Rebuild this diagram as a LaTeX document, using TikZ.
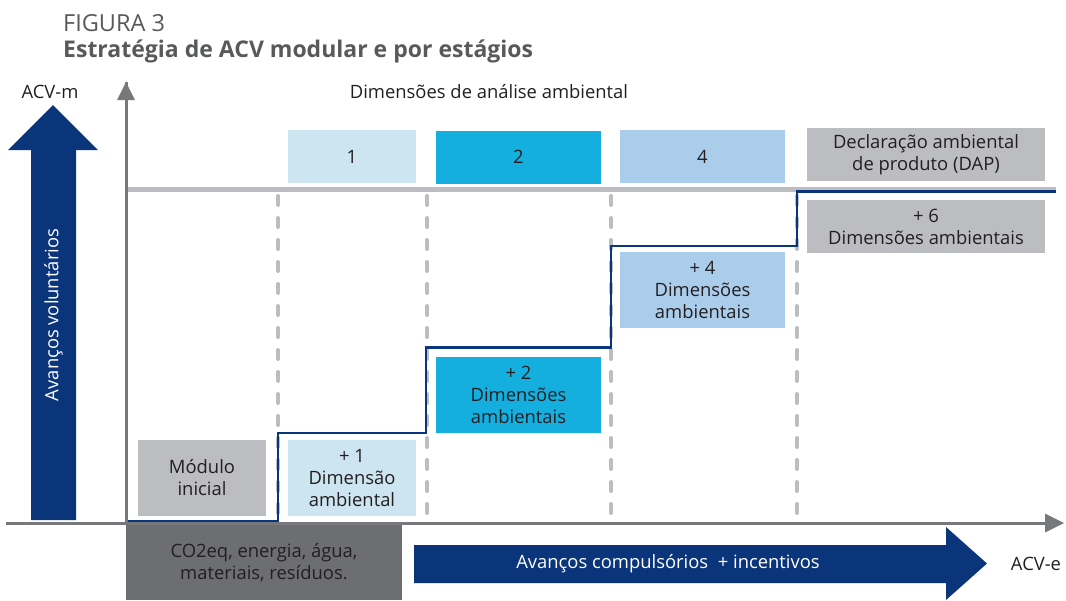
\documentclass[tikz,border=0pt]{standalone}
\usepackage{fontspec}
\setmainfont{Open Sans}
\usetikzlibrary{arrows.meta}
\definecolor{navy}{HTML}{0B357A}
\definecolor{axisgray}{HTML}{77787B}
\definecolor{lightgray}{HTML}{BCBDC0}
\definecolor{darkgray}{HTML}{6D6E71}
\definecolor{txt}{HTML}{231F20}
\definecolor{paleblue}{HTML}{CDE5F0}
\definecolor{cyanblue}{HTML}{14AFDF}
\definecolor{skyblue}{HTML}{ABCDEC}
\definecolor{titlegray}{HTML}{58595B}
\tikzset{
  box/.style={inner sep=0pt, align=center, text=txt,
    font=\fontsize{18.4}{22}\selectfont},
  lbl/.style={inner sep=0pt, text=txt, font=\fontsize{18.4}{22}\selectfont},
  dashline/.style={lightgray, line width=4pt, line cap=round, dash pattern=on 9pt off 13pt},
  stepline/.style={navy, line width=2.6pt},
  axisline/.style={axisgray, line width=3pt},
}
\begin{document}
\begin{tikzpicture}[x=1pt,y=-1pt]
\useasboundingbox (0,0) rectangle (1066,600);
% titles
\node[anchor=base west, inner sep=0pt, text=titlegray, font=\fontsize{23.5}{26}\selectfont] (fig) at (63,31) {FIGURA 3};
\node[anchor=base west, inner sep=0pt, text=titlegray, font=\fontsize{23}{26}\selectfont\bfseries] (title) at (63,57) {Estratégia de ACV modular e por estágios};
\node[lbl] (acvm) at (50,92) {ACV-m};
\node[lbl] (dim) at (489,92) {Dimensões de análise ambiental};
% vertical blue arrow
\fill[navy] (31,520) -- (31,150) -- (8,150) -- (53,105) -- (98,150) -- (76,150) -- (76,520) -- cycle;
\node[rotate=90, inner sep=0pt, text=white, font=\fontsize{18.4}{22}\selectfont] (avv) at (53.5,315) {Avanços voluntários};
% light horizontal line
\coordinate (hl0) at (126,189);
\coordinate (hl1) at (1056,189);
\draw[lightgray, line width=5pt] (hl0) -- (hl1);
% dashed lines
\foreach \x/\n in {278/a,427/b,611/c,797/d}{
  \coordinate (t\n) at (\x,196);
  \coordinate (b\n) at (\x,518);
  \draw[dashline] (t\n) -- (b\n);
}
% boxes
\node[box, fill=paleblue, minimum width=128pt, minimum height=53pt] (d1) at (352,156.5) {1};
\node[box, fill=cyanblue, minimum width=165pt, minimum height=53pt] (d2) at (518.5,157) {2};
\node[box, fill=skyblue, minimum width=165pt, minimum height=53pt] (d4) at (702.5,156.5) {4};
\node[box, fill=lightgray, minimum width=238pt, minimum height=53pt] (dap) at (926,154.5) {Declaração ambiental\\de produto (DAP)};
\node[box, fill=lightgray, minimum width=238pt, minimum height=53pt] (s6) at (926,226.5) {+ 6\\Dimensões ambientais};
\node[box, fill=skyblue, minimum width=165pt, minimum height=76pt] (s4) at (702.5,290) {+ 4\\Dimensões\\ambientais};
\node[box, fill=cyanblue, minimum width=165pt, minimum height=76pt] (s2) at (518.5,395) {+ 2\\Dimensões\\ambientais};
\node[box, fill=paleblue, minimum width=128pt, minimum height=76pt] (s1) at (352,478) {+ 1\\Dimensão\\ambiental};
\node[box, fill=lightgray, minimum width=128pt, minimum height=76pt] (m0) at (202,478) {Módulo\\inicial};
\node[box, fill=darkgray, minimum width=276pt, minimum height=75pt] (co2) at (264,562.5) {CO2eq, energia, água,\\materiais, resíduos.};
% axes
\coordinate (o) at (126,523);
\coordinate (ytop) at (126,82);
\coordinate (xl) at (6,523);
\coordinate (xr) at (1064,523);
\draw[axisline] (126,525) -- (ytop);
\fill[axisgray] (117,100) -- (126,82) -- (135,100) -- cycle;
\draw[axisline] (xl) -- (1047,523);
\fill[axisgray] (1045,513.5) -- (1064,523) -- (1045,532.5) -- cycle;
% step line
\draw[stepline] (128,521) -- (278,521) -- (278,433) -- (426,433) -- (426,347.5) -- (611,347.5) -- (611,246) -- (797,246) -- (797,191.5) -- (1056,191.5);
% horizontal blue arrow
\fill[navy] (414,545) -- (946,545) -- (946,527) -- (987,563.5) -- (946,600) -- (946,583) -- (414,583) -- cycle;
\node[inner sep=0pt, text=white, font=\fontsize{18.4}{22}\selectfont] (avc) at (668,564) {Avanços compulsórios\ \ + incentivos};
\node[lbl] (acve) at (1036,564) {ACV-e};
\end{tikzpicture}
\end{document}
